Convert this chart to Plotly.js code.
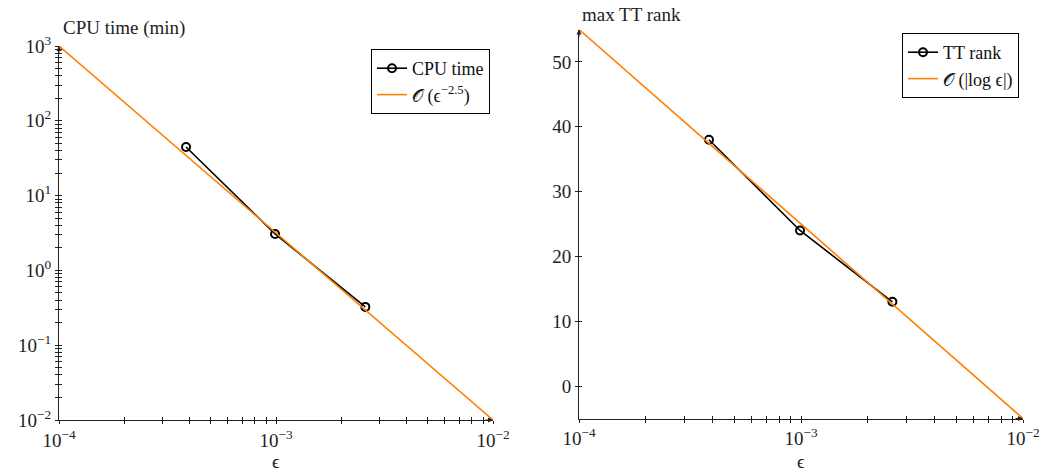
<!DOCTYPE html>
<html>
<head>
<meta charset="utf-8">
<script src="https://cdn.plot.ly/plotly-3.0.1.min.js"></script>
<style>
  html, body { margin: 0; padding: 0; background: #fff; }
  #chart { width: 1051px; height: 468px; }
</style>
</head>
<body>
<div id="chart"></div>
<script>
// Tolerance values epsilon shared by both panels
const eps = [3.85e-4, 9.9e-4, 2.58e-3];
// Measured CPU time (minutes) and maximal TT rank
const cpuTime = [44.7, 3.07, 0.325];
const ttRank = [38, 24, 13];
// Reference rates drawn across the full epsilon range
const refEps = [1e-4, 1e-2];
const refCpu = [1e3, 1e-2];      // O(eps^-2.5)
const refRank = [55, -5];        // O(|log eps|)

// Tick labels
const logXTicks = [1e-4, 1e-3, 1e-2];
const logXText = ['10<sup>−4</sup>', '10<sup>−3</sup>', '10<sup>−2</sup>'];
const cpuTicks = [1e-2, 1e-1, 1e0, 1e1, 1e2, 1e3];
const cpuText = ['10<sup>−2</sup>', '10<sup>−1</sup>', '10<sup>0</sup>', '10<sup>1</sup>', '10<sup>2</sup>', '10<sup>3</sup>'];
const rankTicks = [0, 10, 20, 30, 40, 50];

const W = 1051, H = 468;
const FONT = 'Liberation Serif';
const FS = 19;
const AX = '#222222';
const ORANGE = '#ff8000';
const TL = 3;

const dL = [59 / W, 493 / W], dR = [579 / W, 1023 / W];
const yL = [(H - 420) / H, (H - 46) / H], yR = [(H - 418.5) / H, (H - 29.5) / H];

function baseAxis(extra) {
  return Object.assign({
    showgrid: false, zeroline: false, showline: true, linecolor: AX, linewidth: 1,
    mirror: false, ticks: 'outside', ticklen: TL, tickwidth: 1, tickcolor: AX,
    tickfont: { family: FONT, size: FS, color: '#222' }, fixedrange: true
  }, extra);
}
// overlay axes carry the inward half of every tick, so ticks cross the axis line
function innerAxis(extra) {
  return Object.assign({
    showgrid: false, zeroline: false, showline: false, showticklabels: false,
    ticks: 'inside', ticklen: TL, tickwidth: 1, tickcolor: AX, fixedrange: true
  }, extra);
}
const minorOut = { ticks: 'outside', ticklen: TL, tickwidth: 1, tickcolor: AX, dtick: 'D1', showgrid: false };
const minorIn = { ticks: 'inside', ticklen: TL, tickwidth: 1, tickcolor: AX, dtick: 'D1', showgrid: false };

const xLog = { type: 'log', range: [-4, -2], tickmode: 'array', tickvals: logXTicks, ticktext: logXText };
const yCpu = { type: 'log', range: [-2, 3], tickmode: 'array', tickvals: cpuTicks, ticktext: cpuText };
const yRank = { range: [-5, 55], tickmode: 'array', tickvals: rankTicks };

const circle = { symbol: 'circle-open', size: 8, color: '#000', line: { width: 2 } };
const traces = [
  { x: eps, y: cpuTime, xaxis: 'x', yaxis: 'y', name: 'CPU time', mode: 'lines+markers',
    line: { color: '#000', width: 1.6 }, marker: circle, legend: 'legend' },
  { x: refEps, y: refCpu, xaxis: 'x', yaxis: 'y', name: '𝒪 (ϵ<sup>−2.5</sup>)', mode: 'lines',
    line: { color: ORANGE, width: 1.6 }, legend: 'legend' },
  { x: eps, y: ttRank, xaxis: 'x2', yaxis: 'y2', name: 'TT rank', mode: 'lines+markers',
    line: { color: '#000', width: 1.6 }, marker: circle, legend: 'legend2' },
  { x: refEps, y: refRank, xaxis: 'x2', yaxis: 'y2', name: '𝒪 (|log ϵ|)', mode: 'lines',
    line: { color: ORANGE, width: 1.6 }, legend: 'legend2' },
  // invisible companions that keep the overlay tick axes active
  { x: refEps, y: refCpu, xaxis: 'x3', yaxis: 'y3', mode: 'lines', line: { width: 0 },
    showlegend: false, hoverinfo: 'skip', opacity: 0 },
  { x: refEps, y: refRank, xaxis: 'x4', yaxis: 'y4', mode: 'lines', line: { width: 0 },
    showlegend: false, hoverinfo: 'skip', opacity: 0 }
];

const legendStyle = {
  bgcolor: '#fff', bordercolor: '#000', borderwidth: 1,
  font: { family: FONT, size: 18, color: '#111' }, xanchor: 'right', yanchor: 'top',
  tracegroupgap: 0, itemwidth: 30
};

function arrowAt(xref, yref, x, y, ax, ay) {
  return { xref, yref, x, y, ax, ay, text: '', showarrow: true, arrowhead: 2,
    arrowsize: 1, arrowwidth: 1, arrowcolor: AX, standoff: 0 };
}
function label(text, xpx, ypx, xanchor) {
  return { xref: 'paper', yref: 'paper', x: xpx / W, y: 1 - ypx / H, text, showarrow: false,
    xanchor, yanchor: 'middle', font: { family: FONT, size: FS, color: '#222' } };
}

const layout = {
  width: W, height: H, margin: { l: 0, r: 0, t: 0, b: 0 },
  paper_bgcolor: '#fff', plot_bgcolor: 'rgba(0,0,0,0)', showlegend: true,
  xaxis: baseAxis(Object.assign({ domain: dL, anchor: 'y', minor: minorOut }, xLog)),
  yaxis: baseAxis(Object.assign({ domain: yL, anchor: 'x', minor: minorOut }, yCpu)),
  xaxis2: baseAxis(Object.assign({ domain: dR, anchor: 'y2', minor: minorOut }, xLog)),
  yaxis2: baseAxis(Object.assign({ domain: yR, anchor: 'x2' }, yRank)),
  xaxis3: innerAxis(Object.assign({ overlaying: 'x', anchor: 'y3', minor: minorIn }, xLog)),
  yaxis3: innerAxis(Object.assign({ overlaying: 'y', anchor: 'x3', minor: minorIn }, yCpu)),
  xaxis4: innerAxis(Object.assign({ overlaying: 'x2', anchor: 'y4', minor: minorIn }, xLog)),
  yaxis4: innerAxis(Object.assign({ overlaying: 'y2', anchor: 'x4' }, yRank)),
  legend: Object.assign({ x: 490 / W, y: 1 - 49 / H }, legendStyle),
  legend2: Object.assign({ x: 1019 / W, y: 1 - 33 / H }, legendStyle),
  annotations: [
    label('CPU time (min)', 61, 28, 'left'),
    label('max TT rank', 580, 14, 'left'),
    label('ϵ', 276, 461, 'center'),
    label('ϵ', 801, 461, 'center'),
    arrowAt('x', 'y', -4, 3, 0, 9),
    arrowAt('x', 'y', -2, -2, -9, 0),
    arrowAt('x2', 'y2', -4, 55, 0, 9),
    arrowAt('x2', 'y2', -2, -5, -9, 0)
  ]
};

Plotly.newPlot('chart', traces, layout, { staticPlot: true, displayModeBar: false });
</script>
</body>
</html>
